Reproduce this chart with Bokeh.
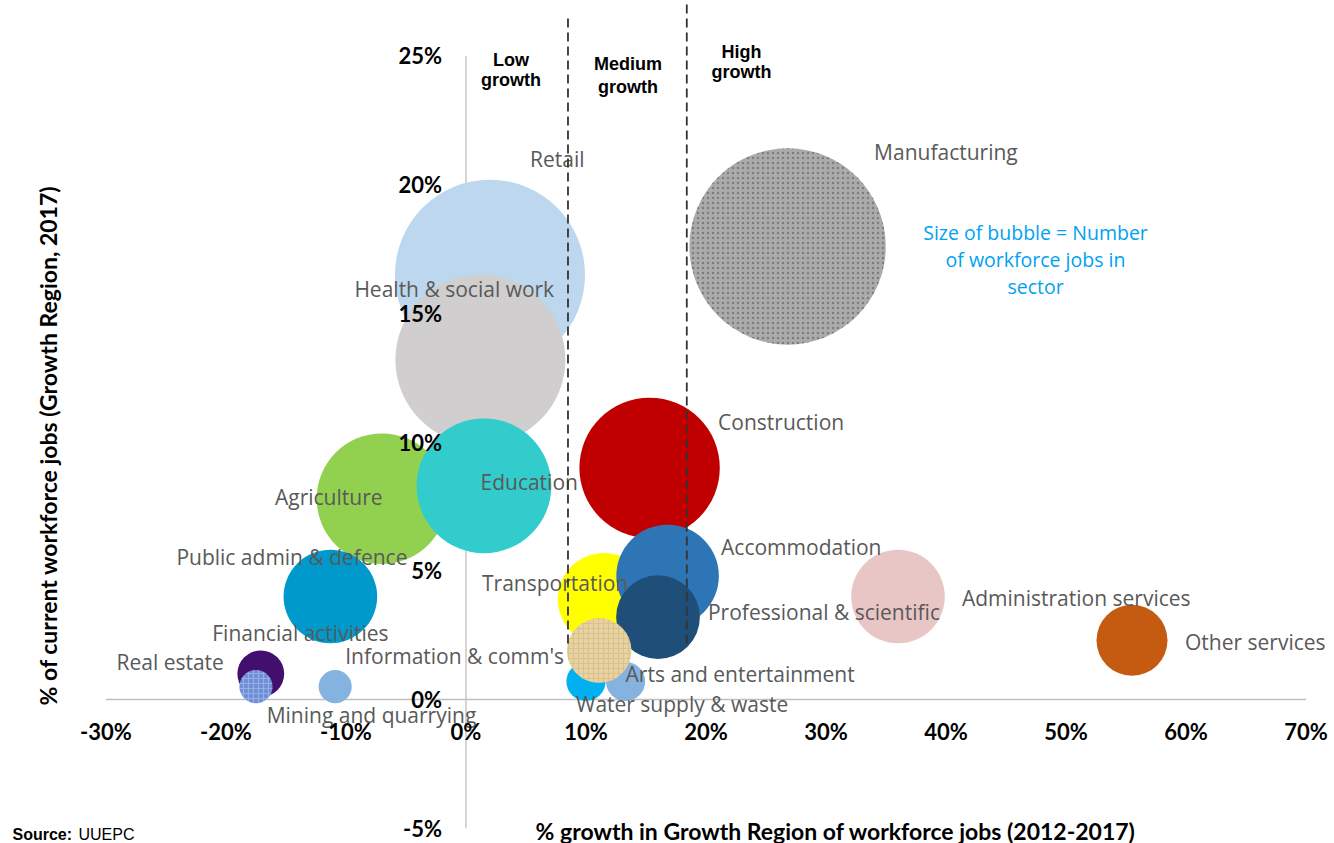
import numpy as np
from bokeh.plotting import figure
from bokeh.models import ColumnDataSource, FixedTicker, PrintfTickFormatter, Label, Range1d
from bokeh.core.properties import value, field
from bokeh.embed import file_html
from bokeh.resources import INLINE

# ---------------- data (draw order = list order) ----------------
sectors = ["Manufacturing", "Retail", "Health & social work", "Agriculture", "Education",
           "Construction", "Administration services", "Public admin & defence", "Transportation",
           "Accommodation", "Professional & scientific", "Other services", "Water supply & waste",
           "Arts and entertainment", "Information & comm's", "Financial activities", "Real estate",
           "Mining and quarrying"]
# % growth in Growth Region of workforce jobs (2012-2017)
growth_pct = [26.8, 2.0, 1.2, -7.0, 1.5, 15.3, 36.0, -11.3, 11.5, 16.8, 16.0, 55.5, 10.0,
              13.3, 11.1, -17.1, -17.5, -10.9]
# % of current workforce jobs (Growth Region, 2017) -- also the bubble size
share_pct = [17.6, 16.5, 13.2, 7.8, 8.3, 9.0, 4.0, 4.0, 3.9, 4.8, 3.2, 2.3, 0.7, 0.7, 1.9,
             1.0, 0.5, 0.5]

x_ticks = [-30, -20, -10, 0, 10, 20, 30, 40, 50, 60, 70]
y_ticks = [-5, 0, 5, 10, 15, 20, 25]
growth_bands = [8.5, 18.4]          # low / medium and medium / high boundaries
band_names = [["Low", "growth"], ["Medium", "growth"], ["High", "growth"]]

# ---------------- styles / layout ----------------
colors = ["#ababab", "#bdd7ee", "#d0cece", "#92d050", "#33cccc", "#c00000", "#e8c6c6", "#0099cc",
          "#ffff00", "#2e75b6", "#1f4e79", "#c55a11", "#00b0f0", "#85b2df", "#e8d3a3", "#430f6e",
          "#6d8fd6", "#85b3e0"]
hatches = [".", " ", " ", " ", " ", " ", " ", " ", " ", " ", " ", " ", " ", " ", "+", " ", "+", " "]
hatch_colors = ["#555555", "#ffffff", "#ffffff", "#ffffff", "#ffffff", "#ffffff", "#ffffff", "#ffffff",
                "#ffffff", "#ffffff", "#ffffff", "#ffffff", "#ffffff", "#ffffff", "#cdb27a", "#ffffff",
                "#b8c8f0", "#ffffff"]
label_dx = [86.5, 40, -126, -107, -3.5, 68.5, 64, -154, -122, 53.5, 50, 53, -10, 0, -254, -48.5, -139.5, -68.5]
label_dy = [-94.5, -116, -71, -2, -4, -45.5, 1, -40, -16, -29, -5, 1.5, 23, -7, 5.5, -41, -25, 28.5]
RADIUS_K = 23.4   # screen px per sqrt(% share)

W, H = 1334, 843
p = figure(width=W, height=H, output_backend="svg", toolbar_location=None,
           x_range=Range1d(-38.79, 72.375), y_range=Range1d(-5.594, 27.156),
           min_border=0, min_border_left=0, min_border_right=0, min_border_top=0, min_border_bottom=0)
p.title.text = ""
p.outline_line_color = None
p.xgrid.visible = False
p.ygrid.visible = False
p.background_fill_color = "white"

# axes crossing at zero
for ax in (p.xaxis[0], p.yaxis[0]):
    ax.fixed_location = 0
    ax.axis_line_color = None
    ax.major_tick_line_color = None
    ax.minor_tick_line_color = None
    ax.formatter = PrintfTickFormatter(format="%d%%")
    ax.major_label_text_font = "Lato"
    ax.major_label_text_font_style = "bold"
    ax.major_label_text_font_size = "22px"
    ax.major_label_text_color = "#000000"
p.xaxis[0].ticker = FixedTicker(ticks=x_ticks)
p.yaxis[0].ticker = FixedTicker(ticks=y_ticks)
p.xaxis[0].major_label_standoff = 12
p.yaxis[0].major_label_standoff = 18

# axis lines behind the bubbles
p.line(x=[x_ticks[0], x_ticks[-1]], y=[0, 0], line_color="#bfbfbf", line_width=1.3)
p.line(x=[0, 0], y=[y_ticks[0], y_ticks[-1]], line_color="#bfbfbf", line_width=1.3)

src = ColumnDataSource(dict(
    x=growth_pct, y=share_pct, name=sectors,
    r=[RADIUS_K * np.sqrt(s) for s in share_pct],
    color=colors, hatch=hatches, hcol=hatch_colors, dx=label_dx, dy=label_dy))

p.circle(x="x", y="y", radius="r", radius_units="screen", source=src,
         fill_color="color", line_color=None,
         hatch_pattern=field("hatch"), hatch_color=field("hcol"), hatch_scale=5,
         hatch_weight=1.2, hatch_alpha=0.55)

p.text(x="x", y="y", text="name", x_offset="dx", y_offset="dy", source=src,
       text_font=value("Open Sans"), text_font_size="21px", text_color="#595959",
       text_align="left", text_baseline="middle")

# growth band dashed lines (on top)
p.segment(x0=growth_bands, y0=[2.18, 2.18], x1=growth_bands, y1=[26.57, 27.156],
          line_color="#333333", line_width=1.8, line_dash="9 5")

# band labels
band_x = [3.75, 13.5, 22.96]
band_y_top = [24.86, 24.67, 25.14]
band_y_bot = [24.05, 23.81, 24.36]
p.text(x=band_x + band_x, y=band_y_top + band_y_bot,
       text=[b[0] for b in band_names] + [b[1] for b in band_names],
       text_font=value("Liberation Sans"), text_font_style="bold", text_font_size="18px",
       text_color="#000000", text_align="center", text_baseline="middle")

# note on bubble size
note_lines = ["Size of bubble = Number", "of workforce jobs in", "sector"]
p.text(x=[47.46] * 3, y=[18.14, 17.09, 16.04], text=note_lines,
       text_font=value("Open Sans"), text_font_size="19.5px", text_color="#00a2f2",
       text_align="center", text_baseline="middle")

# axis titles
p.add_layout(Label(x=47, y=398, x_units="screen", y_units="screen", angle=90, angle_units="deg",
                   text="% of current workforce jobs (Growth Region, 2017)",
                   text_font="Lato", text_font_style="bold", text_font_size="23px",
                   text_color="#000000", text_align="center", text_baseline="middle"))
p.add_layout(Label(x=838, y=13, x_units="screen", y_units="screen",
                   text="% growth in Growth Region of  workforce jobs (2012-2017)",
                   text_font="Lato", text_font_style="bold", text_font_size="23px",
                   text_color="#000000", text_align="center", text_baseline="middle"))

# source
p.add_layout(Label(x=12, y=1, x_units="screen", y_units="screen", text="Source:",
                   text_font="Liberation Sans", text_font_style="bold", text_font_size="16px",
                   text_color="#000000", text_align="left", text_baseline="bottom"))
p.add_layout(Label(x=78, y=1, x_units="screen", y_units="screen", text="UUEPC",
                   text_font="Liberation Sans", text_font_size="16px",
                   text_color="#000000", text_align="left", text_baseline="bottom"))

open("out.html", "w").write(file_html(p, INLINE))
